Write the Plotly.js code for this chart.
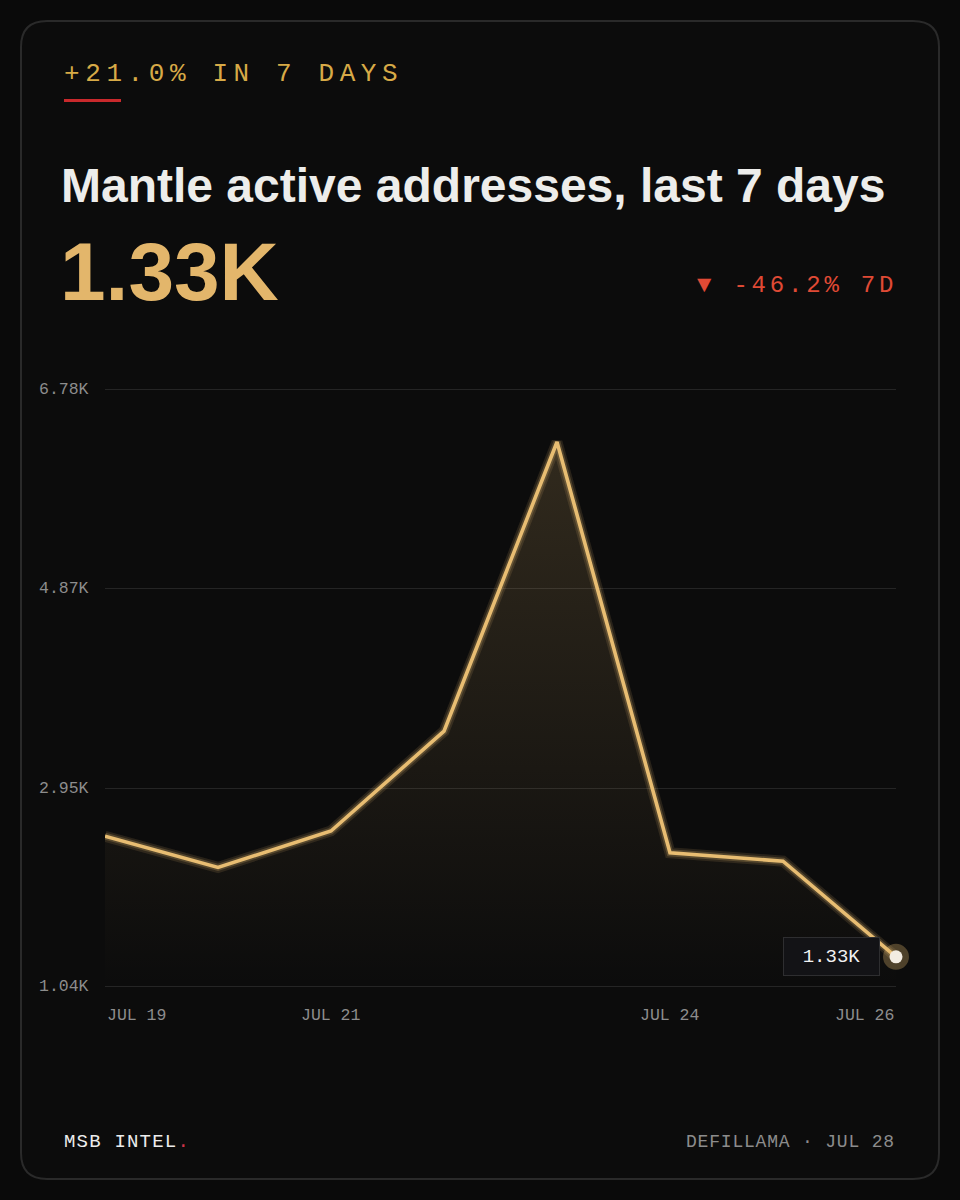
<!DOCTYPE html>
<html>
<head>
<meta charset="utf-8">
<script src="https://cdn.plot.ly/plotly-3.0.1.min.js"></script>
<style>
  html, body { margin: 0; padding: 0; background: #0a0a0a; }
  #chart { width: 960px; height: 1200px; }
  text[data-unformatted="+21.0% IN 7 DAYS"] { letter-spacing: 5.6px; }
  text[data-unformatted="▼ -46.2% 7D"] { letter-spacing: 3.8px; }
  text[data-unformatted^="MSB"] { letter-spacing: 1.2px; }
  text[data-unformatted^="DEFILLAMA"] { letter-spacing: 0.8px; }
</style>
</head>
<body>
<div id="chart"></div>
<script>
// ---- data ----
const dates = ['JUL 19', 'JUL 20', 'JUL 21', 'JUL 22', 'JUL 23', 'JUL 24', 'JUL 25', 'JUL 26'];
const activeK = [2.49, 2.19, 2.54, 3.50, 6.28, 2.33, 2.25, 1.33];
const yTickVals = [1.04, 2.95, 4.87, 6.78];
const yTickText = ['1.04K', '2.95K', '4.87K', '6.78K'];
const xTickVals = ['JUL 19', 'JUL 21', 'JUL 24', 'JUL 26'];
const lastLabel = '1.33K';
const kicker = '+21.0% IN 7 DAYS';
const titleText = 'Mantle active addresses, last 7 days';
const bigValue = '1.33K';
const changeText = '▼ -46.2% 7D';
const footLeft = "MSB INTEL<span style='color:#d0344a'>.</span>";
const footRight = 'DEFILLAMA · JUL 28';

// ---- styles ----
const W = 960, H = 1200;
const px = v => v / W;
const py = v => 1 - v / H;
const MONO = 'Liberation Mono, DejaVu Sans Mono, monospace';
const SANS = 'Liberation Sans, Arial, sans-serif';
const GOLD = '#e8bd72';
const lastIdx = dates.length - 1;

// y axis slightly padded so gridlines at 1.04 and 6.78 are drawn
const yLo = 1.03, yHi = 6.79;
const pxPerUnit = (987 - 390) / (6.78 - 1.04);
const yBottomPx = 987 + (1.04 - yLo) * pxPerUnit;
const yTopPx = 390 - (yHi - 6.78) * pxPerUnit;

const traces = [
  {
    x: dates, y: activeK, type: 'scatter', mode: 'lines',
    line: { color: 'rgba(232,189,114,0.13)', width: 11 },
    fill: 'tozeroy',
    fillgradient: {
      type: 'vertical', start: 1.04, stop: 6.28,
      colorscale: [[0, 'rgba(232,189,114,0.0)'], [1, 'rgba(232,189,114,0.17)']]
    },
    hoverinfo: 'skip', showlegend: false
  },
  {
    x: dates, y: activeK, type: 'scatter', mode: 'lines',
    line: { color: 'rgba(232,189,114,0.22)', width: 7 },
    hoverinfo: 'skip', showlegend: false
  },
  {
    x: dates, y: activeK, type: 'scatter', mode: 'lines',
    line: { color: GOLD, width: 3.6 },
    hoverinfo: 'skip', showlegend: false
  },
  {
    x: [dates[lastIdx]], y: [activeK[lastIdx]], type: 'scatter', mode: 'markers',
    marker: { size: 26, color: 'rgba(232,189,114,0.30)' },
    cliponaxis: false, hoverinfo: 'skip', showlegend: false
  },
  {
    x: [dates[lastIdx]], y: [activeK[lastIdx]], type: 'scatter', mode: 'markers',
    marker: { size: 13, color: '#f3ece2' },
    cliponaxis: false, hoverinfo: 'skip', showlegend: false
  }
];

function roundedRect(x0, y0, x1, y1, r) {
  const rx = r / W, ry = r / H;
  const X0 = px(x0), X1 = px(x1), Y0 = py(y0), Y1 = py(y1);
  return `M ${X0 + rx},${Y0} L ${X1 - rx},${Y0} Q ${X1},${Y0} ${X1},${Y0 - ry} ` +
         `L ${X1},${Y1 + ry} Q ${X1},${Y1} ${X1 - rx},${Y1} ` +
         `L ${X0 + rx},${Y1} Q ${X0},${Y1} ${X0},${Y1 + ry} ` +
         `L ${X0},${Y0 - ry} Q ${X0},${Y0} ${X0 + rx},${Y0} Z`;
}

const annotations = [
  { text: kicker, xref: 'paper', yref: 'paper', x: px(62), y: py(74), xanchor: 'left', yanchor: 'middle',
    showarrow: false, font: { family: MONO, size: 26, color: '#d7aa47' } },
  { text: titleText, xref: 'paper', yref: 'paper', x: px(59), y: py(185), xanchor: 'left', yanchor: 'middle',
    showarrow: false, font: { family: SANS, size: 48, color: '#ededeb', weight: 700 } },
  { text: bigValue, xref: 'paper', yref: 'paper', x: px(58), y: py(271), xanchor: 'left', yanchor: 'middle',
    showarrow: false, font: { family: SANS, size: 82, color: '#e3b66b', weight: 700 } },
  { text: changeText, xref: 'paper', yref: 'paper', x: px(899), y: py(285), xanchor: 'right', yanchor: 'middle',
    showarrow: false, font: { family: MONO, size: 24, color: '#e04a35' } },
  { text: footLeft, xref: 'paper', yref: 'paper', x: px(62), y: py(1142), xanchor: 'left', yanchor: 'middle',
    showarrow: false, font: { family: MONO, size: 19, color: '#ececec' } },
  { text: footRight, xref: 'paper', yref: 'paper', x: px(897), y: py(1142), xanchor: 'right', yanchor: 'middle',
    showarrow: false, font: { family: MONO, size: 18, color: '#8c8c8c' } },
  { text: lastLabel, xref: 'x', yref: 'y', x: dates[lastIdx], y: activeK[lastIdx], xanchor: 'right', yanchor: 'middle',
    xshift: -16, showarrow: false, width: 93, height: 35, align: 'center',
    bgcolor: '#131316', bordercolor: '#2e2e30', borderwidth: 1,
    font: { family: MONO, size: 19, color: '#f2f2f2' } }
];

yTickVals.forEach((v, i) => {
  annotations.push({ text: yTickText[i], xref: 'paper', yref: 'y', x: px(37), y: v, xanchor: 'left', yanchor: 'middle',
    showarrow: false, font: { family: MONO, size: 16.5, color: '#8d8d8d' } });
});
xTickVals.forEach((d, i) => {
  const anchor = i === 0 ? 'left' : (i === xTickVals.length - 1 ? 'right' : 'center');
  annotations.push({ text: d, xref: 'x', yref: 'paper', x: d, y: py(1015), xanchor: anchor, yanchor: 'middle',
    showarrow: false, font: { family: MONO, size: 16.5, color: '#8d8d8d' } });
});

const layout = {
  width: W, height: H,
  margin: { l: 0, r: 0, t: 0, b: 0, pad: 0 },
  paper_bgcolor: '#0a0a0a',
  plot_bgcolor: 'rgba(0,0,0,0)',
  showlegend: false,
  xaxis: {
    type: 'category', domain: [px(105), px(896)], range: [0, dates.length - 1],
    showgrid: false, zeroline: false, showline: false, showticklabels: false, ticks: '', fixedrange: true
  },
  yaxis: {
    domain: [py(yBottomPx), py(yTopPx)], range: [yLo, yHi],
    tickvals: yTickVals, showticklabels: false, ticks: '',
    showgrid: true, gridcolor: '#252525', gridwidth: 1,
    zeroline: false, showline: false, fixedrange: true
  },
  shapes: [
    { type: 'path', xref: 'paper', yref: 'paper', path: roundedRect(21, 21, 939, 1179, 26),
      fillcolor: '#0c0c0c', line: { color: '#2a2a2a', width: 2 }, layer: 'below' },
    { type: 'line', xref: 'paper', yref: 'paper', x0: px(64), x1: px(121), y0: py(100.5), y1: py(100.5),
      line: { color: '#c9292c', width: 3 } }
  ],
  annotations: annotations
};

Plotly.newPlot('chart', traces, layout, { displayModeBar: false, staticPlot: true });
</script>
</body>
</html>
